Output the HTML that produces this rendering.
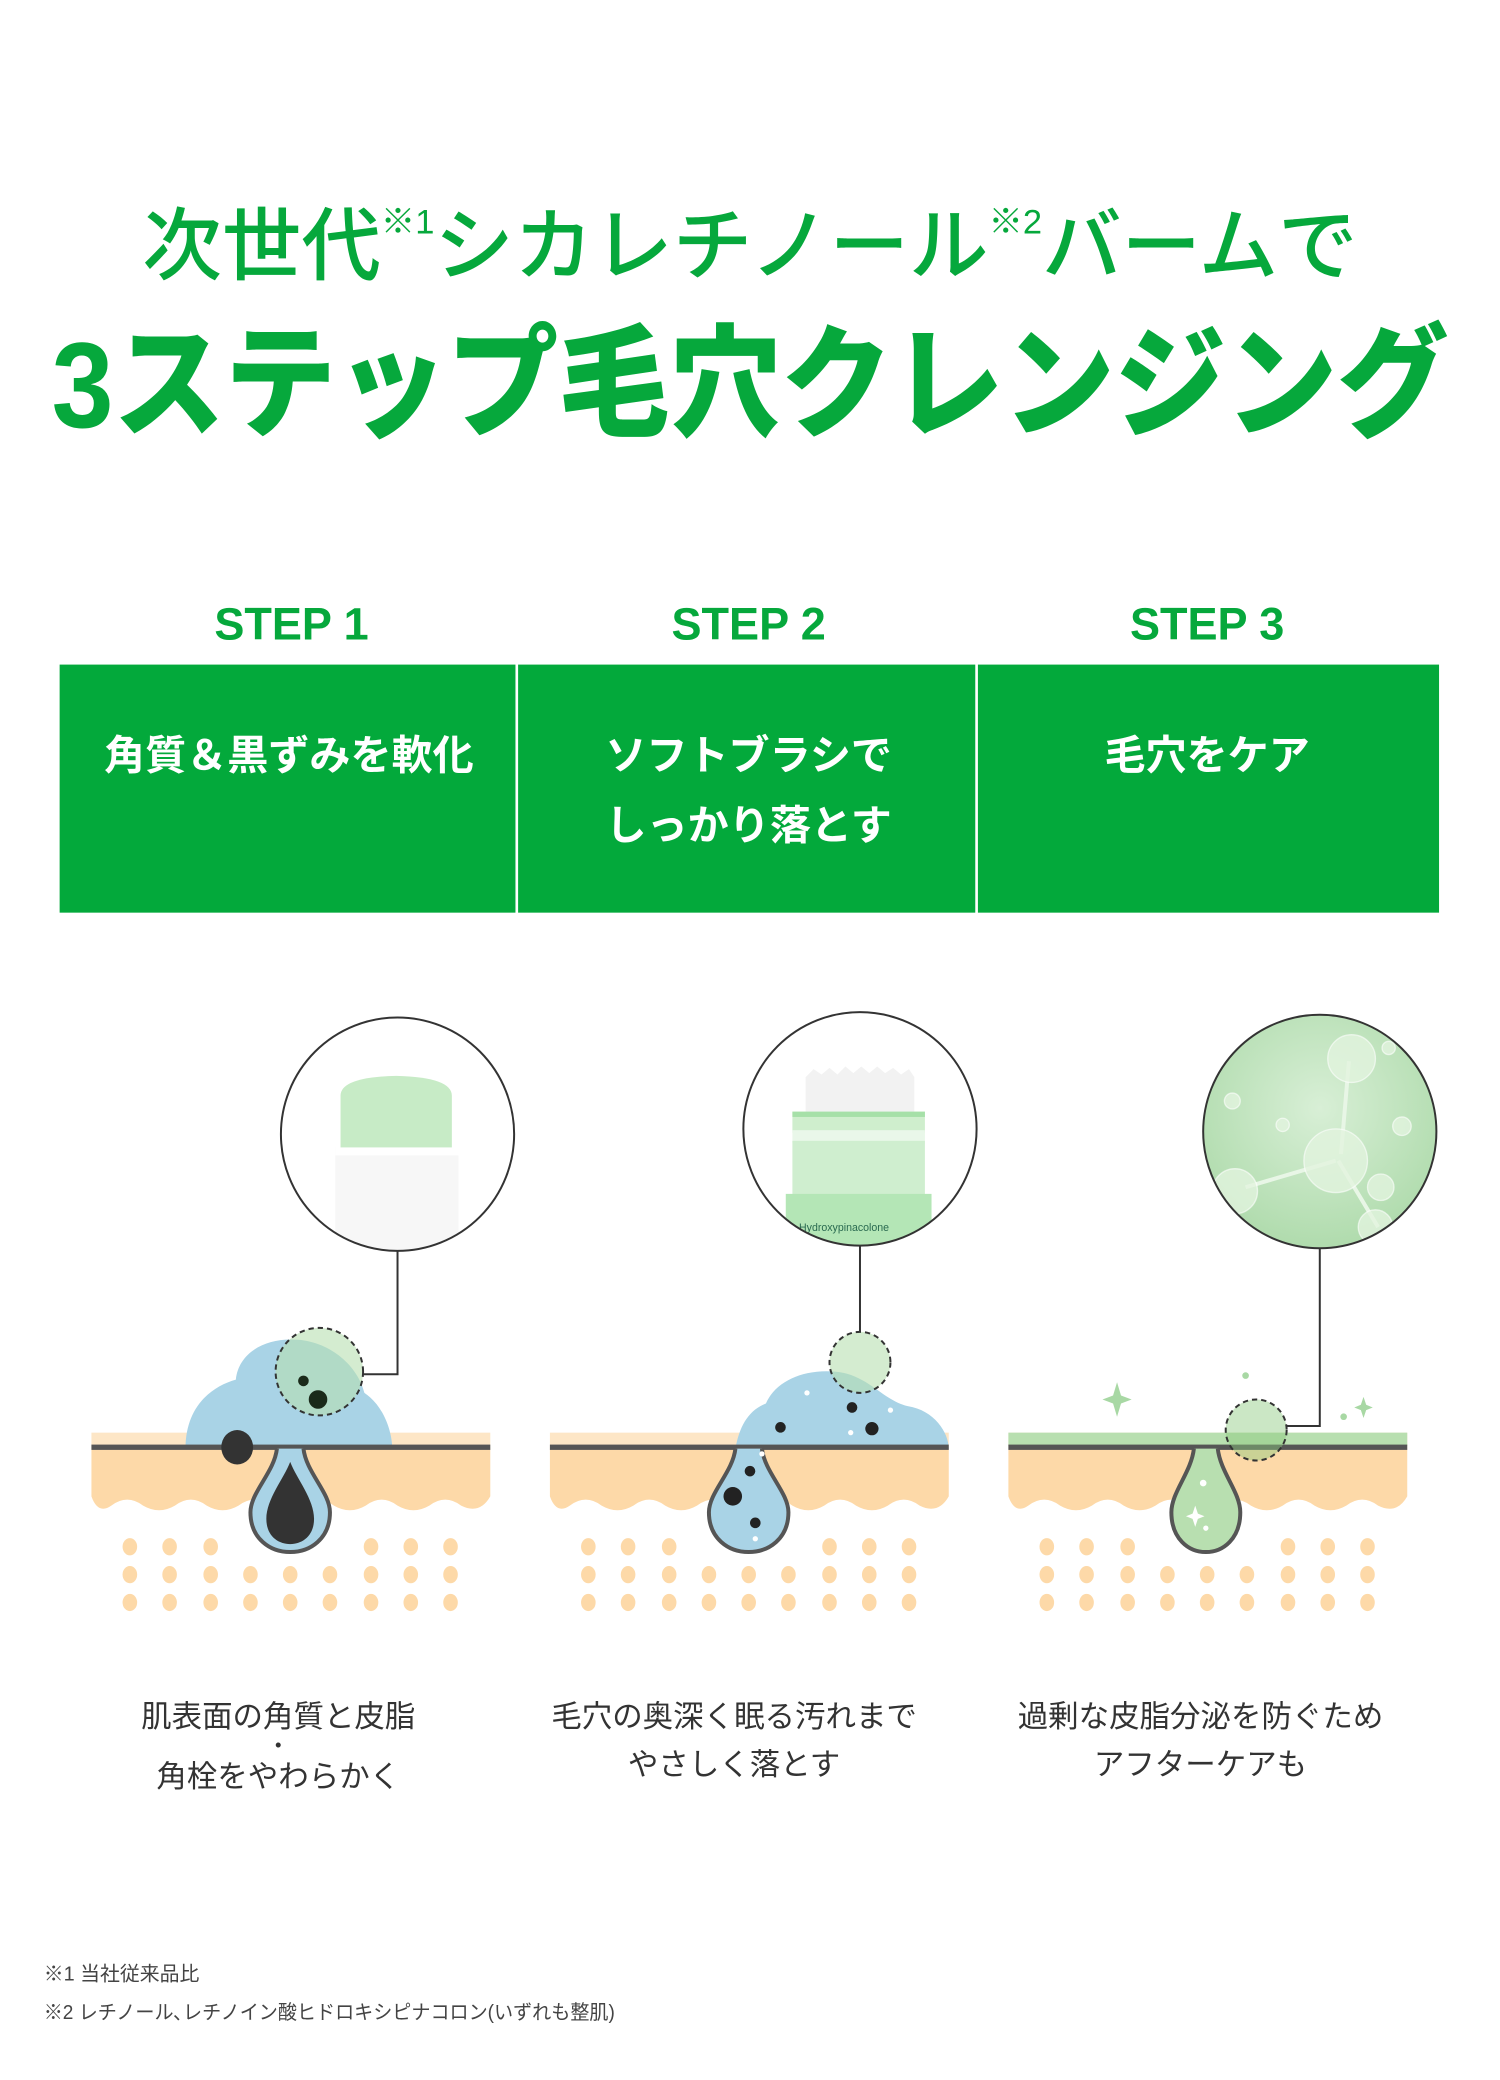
<!DOCTYPE html>
<html><head><meta charset="utf-8"><style>
html,body{margin:0;padding:0;background:#fff;}
svg{display:block;}
text{font-family:"Liberation Sans","Noto Sans CJK JP",sans-serif;}
</style></head><body>
<svg width="1500" height="2080" viewBox="0 0 1132 1568" preserveAspectRatio="none" xmlns="http://www.w3.org/2000/svg">
<defs>
<clipPath id="c1"><circle cx="300" cy="855" r="88"/></clipPath>
<clipPath id="c2"><circle cx="649" cy="851" r="88"/></clipPath>
<clipPath id="c3"><circle cx="996" cy="853" r="88"/></clipPath>
<radialGradient id="g3" cx="0.5" cy="0.4" r="0.7"><stop offset="0" stop-color="#d8efd6"/><stop offset="1" stop-color="#a9d8a6"/></radialGradient>
<g id="skin">
<rect x="0" y="1080" width="301" height="12" fill="#fde6c6"/>
<path d="M0,1092 H301 V1128 Q293,1142 279,1135 Q267,1126 255,1135 Q243,1142 231,1135 Q219,1126 207,1135 Q195,1142 183,1135 Q171,1126 159,1135 Q147,1142 135,1135 Q123,1126 111,1135 Q99,1142 87,1135 Q75,1126 63,1135 Q51,1142 39,1135 Q27,1126 15,1135 Q5,1142 0,1128 Z" fill="#fdd9a8"/>
<g fill="#fdd9a8">
<ellipse cx="29" cy="1166" rx="5.5" ry="6.5"/><ellipse cx="59" cy="1166" rx="5.5" ry="6.5"/><ellipse cx="90" cy="1166" rx="5.5" ry="6.5"/>
<ellipse cx="211" cy="1166" rx="5.5" ry="6.5"/><ellipse cx="241" cy="1166" rx="5.5" ry="6.5"/><ellipse cx="271" cy="1166" rx="5.5" ry="6.5"/>
<ellipse cx="29" cy="1187" rx="5.5" ry="6.5"/><ellipse cx="59" cy="1187" rx="5.5" ry="6.5"/><ellipse cx="90" cy="1187" rx="5.5" ry="6.5"/><ellipse cx="120" cy="1187" rx="5.5" ry="6.5"/><ellipse cx="150" cy="1187" rx="5.5" ry="6.5"/><ellipse cx="180" cy="1187" rx="5.5" ry="6.5"/><ellipse cx="211" cy="1187" rx="5.5" ry="6.5"/><ellipse cx="241" cy="1187" rx="5.5" ry="6.5"/><ellipse cx="271" cy="1187" rx="5.5" ry="6.5"/>
<ellipse cx="29" cy="1208" rx="5.5" ry="6.5"/><ellipse cx="59" cy="1208" rx="5.5" ry="6.5"/><ellipse cx="90" cy="1208" rx="5.5" ry="6.5"/><ellipse cx="120" cy="1208" rx="5.5" ry="6.5"/><ellipse cx="150" cy="1208" rx="5.5" ry="6.5"/><ellipse cx="180" cy="1208" rx="5.5" ry="6.5"/><ellipse cx="211" cy="1208" rx="5.5" ry="6.5"/><ellipse cx="241" cy="1208" rx="5.5" ry="6.5"/><ellipse cx="271" cy="1208" rx="5.5" ry="6.5"/>
</g>
</g>
</defs>

<text x="566" y="206" text-anchor="middle" font-size="60" font-weight="500" fill="#06a83c">次世代<tspan font-size="26" dy="-30">※1</tspan><tspan dy="30">シカレチノール</tspan><tspan font-size="26" dy="-30">※2</tspan><tspan dy="30">バームで</tspan></text>
<text x="566" y="322" text-anchor="middle" font-size="92" font-weight="900" fill="#06a83c" textLength="1054" lengthAdjust="spacingAndGlyphs">3ステップ毛穴クレンジング</text>

<g font-size="34" font-weight="bold" fill="#06a83c" text-anchor="middle">
<text x="220" y="482">STEP 1</text><text x="565" y="482">STEP 2</text><text x="911" y="482">STEP 3</text>
</g>
<rect x="45" y="501" width="344" height="187" fill="#03a93b"/>
<rect x="391" y="501" width="345" height="187" fill="#03a93b"/>
<rect x="738" y="501" width="348" height="187" fill="#03a93b"/>
<g font-size="31" font-weight="bold" fill="#fff" text-anchor="middle">
<text x="218" y="580">角質＆黒ずみを軟化</text>
<text x="565" y="580">ソフトブラシで</text>
<text x="565" y="633">しっかり落とす</text>
<text x="911" y="580">毛穴をケア</text>
</g>

<use href="#skin" x="69"/>
<path d="M140,1092 C140,1060 160,1045 178,1040 C180,1020 200,1008 225,1010 C250,1012 270,1030 275,1050 C290,1060 296,1080 296,1092 Z" fill="#a9d3e6"/>
<rect x="69" y="1089" width="301" height="4" fill="#555"/>
<path d="M209,1092 C207,1110 189,1125 189,1140 C189,1160 204,1170 219,1170 C234,1170 249,1160 249,1140 C249,1125 231,1110 229,1092" fill="#a9d3e6" stroke="#555" stroke-width="3"/>
<path d="M219,1102 C214,1115 201,1130 201,1145 C201,1158 210,1164 219,1164 C228,1164 237,1158 237,1145 C237,1130 224,1115 219,1102 Z" fill="#333"/>
<ellipse cx="179" cy="1091" rx="12" ry="13" fill="#333"/>
<circle cx="241" cy="1034" r="33" fill="#b8dfb0" fill-opacity="0.6" stroke="#333" stroke-width="1.5" stroke-dasharray="4,3"/>
<circle cx="229" cy="1041" r="4" fill="#1a2a1a"/><circle cx="240" cy="1055" r="7" fill="#1a2a1a"/>
<polyline points="300,943 300,1036 274,1036" fill="none" stroke="#333" stroke-width="1.5"/>
<g clip-path="url(#c1)">
<rect x="212" y="767" width="176" height="176" fill="#fff"/>
<path d="M257,870 V826 Q257,812 299,811 Q341,812 341,826 V870 Z" fill="#c7ebc6"/>
<rect x="253" y="865" width="93" height="90" fill="#f7f7f7"/>
<rect x="253" y="865" width="93" height="6" fill="#fff"/>
</g>
<circle cx="300" cy="855" r="88" fill="none" stroke="#333" stroke-width="1.5"/>

<use href="#skin" x="415"/>
<path d="M555,1092 C558,1075 565,1063 578,1058 C585,1042 605,1032 630,1034 C655,1036 665,1055 685,1060 C705,1063 716,1080 716,1092 Z" fill="#a9d3e6"/>
<rect x="415" y="1089" width="301" height="4" fill="#555"/>
<path d="M555,1092 C553,1110 535,1125 535,1140 C535,1160 550,1170 565,1170 C580,1170 595,1160 595,1140 C595,1125 577,1110 575,1092" fill="#a9d3e6" stroke="#555" stroke-width="3"/>
<g fill="#222"><circle cx="643" cy="1061" r="4"/><circle cx="658" cy="1077" r="5"/><circle cx="589" cy="1076" r="4"/><circle cx="566" cy="1109" r="4"/><circle cx="553" cy="1128" r="7"/><circle cx="570" cy="1148" r="4"/></g>
<g fill="#fff"><circle cx="609" cy="1050" r="2"/><circle cx="672" cy="1063" r="2"/><circle cx="642" cy="1080" r="2"/><circle cx="575" cy="1096" r="2"/><circle cx="570" cy="1160" r="2"/></g>
<circle cx="649" cy="1027" r="23" fill="#b8dfb0" fill-opacity="0.6" stroke="#333" stroke-width="1.5" stroke-dasharray="4,3"/>
<line x1="649" y1="939" x2="649" y2="1004" stroke="#333" stroke-width="1.5"/>
<g clip-path="url(#c2)">
<rect x="561" y="763" width="176" height="176" fill="#fff"/>
<path d="M608,840 V812 L614,806 L620,810 L626,805 L632,810 L638,804 L644,809 L650,804 L656,809 L662,804 L668,809 L674,805 L680,810 L686,806 L690,812 V840 Z" fill="#f2f2f2"/>
<rect x="598" y="838" width="100" height="16" fill="#cfeecd"/>
<rect x="598" y="838" width="100" height="4" fill="#a6e0a8"/>
<rect x="598" y="852" width="100" height="10" fill="#e9f7e9"/>
<rect x="598" y="860" width="100" height="42" fill="#cfeecf"/>
<rect x="593" y="900" width="110" height="45" fill="#b4e6b6"/>
<text x="603" y="928" font-size="8" fill="#2a6a50">Hydroxypinacolone</text>
</g>
<circle cx="649" cy="851" r="88" fill="none" stroke="#333" stroke-width="1.5"/>

<use href="#skin" x="761"/>
<rect x="761" y="1080" width="301" height="10" fill="#b8dfb0"/>
<rect x="761" y="1089" width="301" height="4" fill="#555"/>
<path d="M901,1092 C899,1110 884,1125 884,1140 C884,1160 897,1170 910,1170 C923,1170 936,1160 936,1140 C936,1125 921,1110 919,1092" fill="#b8dfb0" stroke="#555" stroke-width="3"/>
<g fill="#fff"><circle cx="908" cy="1118" r="2.5"/><circle cx="910" cy="1152" r="2"/><path d="M902,1135 L904,1141 L909,1143 L904,1145 L902,1151 L900,1145 L895,1143 L900,1141 Z"/></g>
<g fill="#a8d8a4"><path d="M843,1042 L846,1052 L854,1055 L846,1058 L843,1068 L840,1058 L832,1055 L840,1052 Z"/><path d="M1029,1053 L1031,1059 L1036,1061 L1031,1063 L1029,1069 L1027,1063 L1022,1061 L1027,1059 Z"/><circle cx="940" cy="1037" r="2.5"/><circle cx="1014" cy="1068" r="2.5"/></g>
<circle cx="948" cy="1078" r="23" fill="#8cc97f" fill-opacity="0.45" stroke="#333" stroke-width="1.5" stroke-dasharray="4,3"/>
<polyline points="996,941 996,1075 971,1075" fill="none" stroke="#333" stroke-width="1.5"/>
<g clip-path="url(#c3)">
<rect x="908" y="765" width="176" height="176" fill="url(#g3)"/>
<g stroke="#e8f6e6" stroke-width="3"><line x1="1018" y1="800" x2="1012" y2="870"/><line x1="1008" y1="875" x2="940" y2="895"/><line x1="1010" y1="875" x2="1040" y2="925"/></g>
<g fill="#e2f4df" fill-opacity="0.8" stroke="#fff" stroke-opacity="0.6">
<circle cx="1020" cy="798" r="18"/><circle cx="1008" cy="875" r="24"/><circle cx="932" cy="898" r="17"/><circle cx="1038" cy="925" r="13"/><circle cx="1042" cy="895" r="10"/><circle cx="930" cy="830" r="6"/><circle cx="1058" cy="849" r="7"/><circle cx="1048" cy="790" r="5"/><circle cx="968" cy="848" r="5"/>
</g>
</g>
<circle cx="996" cy="853" r="88" fill="none" stroke="#333" stroke-width="1.5"/>

<g font-size="23" fill="#333" text-anchor="middle">
<text x="210" y="1302">肌表面の角質と皮脂</text>
<text x="210" y="1320" font-size="14">•</text>
<text x="210" y="1347">角栓をやわらかく</text>
<text x="554" y="1302">毛穴の奥深く眠る汚れまで</text>
<text x="554" y="1338">やさしく落とす</text>
<text x="906" y="1302">過剰な皮脂分泌を防ぐため</text>
<text x="906" y="1338">アフターケアも</text>
</g>
<g font-size="15" fill="#444">
<text x="33" y="1493">※1 当社従来品比</text>
<text x="33" y="1522" textLength="431" lengthAdjust="spacingAndGlyphs">※2 レチノール､レチノイン酸ヒドロキシピナコロン(いずれも整肌)</text>
</g>
</svg>
</body></html>
